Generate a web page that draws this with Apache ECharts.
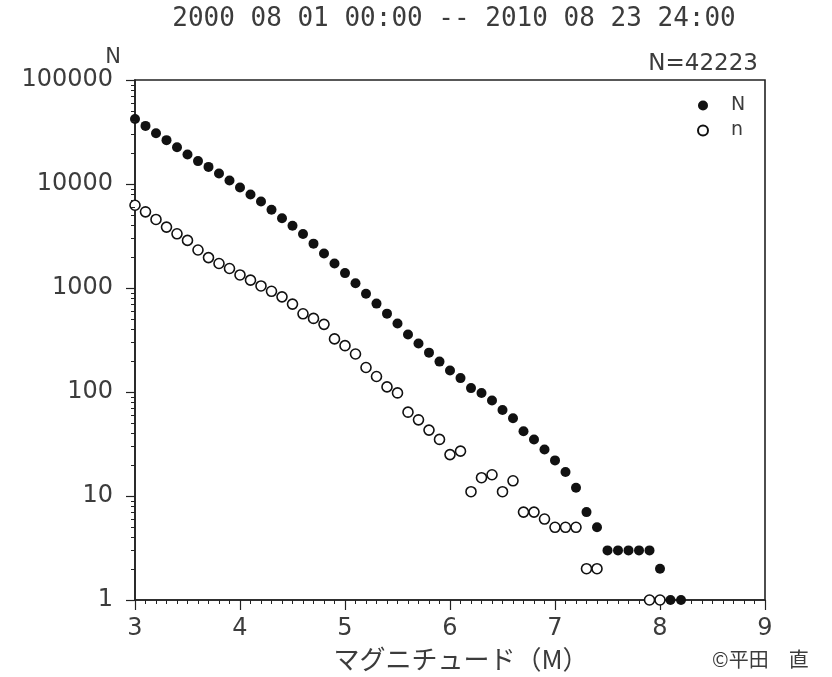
<!DOCTYPE html>
<html>
<head>
<meta charset="utf-8">
<script src="https://cdn.jsdelivr.net/npm/echarts@6/dist/echarts.min.js"></script>
<style>
html,body{margin:0;padding:0;background:#fff;}
#chart{width:832px;height:677px;}
</style>
</head>
<body>
<div id="chart"></div>
<script>
// Magnitude bins (M)
const magnitudes = [3.0,3.1,3.2,3.3,3.4,3.5,3.6,3.7,3.8,3.9,
  4.0,4.1,4.2,4.3,4.4,4.5,4.6,4.7,4.8,4.9,
  5.0,5.1,5.2,5.3,5.4,5.5,5.6,5.7,5.8,5.9,
  6.0,6.1,6.2,6.3,6.4,6.5,6.6,6.7,6.8,6.9,
  7.0,7.1,7.2,7.3,7.4,7.5,7.6,7.7,7.8,7.9,
  8.0,8.1,8.2];
// Cumulative count N (M >= m)
const cumulativeN = [42223,36200,30800,26400,22600,19200,16600,14600,12600,10800,
  9250,7920,6780,5650,4690,3970,3300,2670,2150,1720,
  1391,1112,880,708,567,455,357,293,239,196,
  161,136,109,98,83,67,56,42,35,28,
  22,17,12,7,5,3,3,3,3,3,
  2,1,1];
// Count per 0.1 bin n (null = no events)
const binCountN = [6250,5400,4560,3850,3320,2870,2320,1960,1720,1540,
  1335,1190,1047,930,822,700,565,510,447,324,
  279,232,172,141,112,98,64,54,43,35,
  25,27,11,15,16,11,14,7,7,6,
  5,5,5,2,2,null,null,null,null,1,
  1,null,null];
// Axis ticks
const xTickLabels = ['3','4','5','6','7','8','9'];
const yTickLabels = ['1','10','100','1000','10000','100000'];
const yMinorTicks = [2,3,4,5,6,7,8,9,20,30,40,50,60,70,80,90,
  200,300,400,500,600,700,800,900,2000,3000,4000,5000,6000,7000,8000,9000,
  20000,30000,40000,50000,60000,70000,80000,90000];
const titleText = '2000 08 01 00:00 -- 2010 08 23 24:00';
const totalText = 'N=42223';

const chart = echarts.init(document.getElementById('chart'), null, {renderer:'canvas'});

const dataN = [];
const dataNn = [];
magnitudes.forEach((m,i)=>{
  if (cumulativeN[i] != null) dataN.push([m, cumulativeN[i]]);
  if (binCountN[i] != null) dataNn.push([m, binCountN[i]]);
});

const textColor = '#3c3c3c';
const lineColor = '#222';

const baseGraphic = [
  {type:'text', right:74, top:53, style:{text:totalText, fontFamily:'DejaVu Sans', fontSize:23, fill:textColor}},
  {type:'text', left:712, top:649, style:{text:'©平田　直', fontFamily:'Noto Sans CJK JP', fontSize:20, fill:textColor}}
];

chart.setOption({
  animation:false,
  backgroundColor:'#fff',
  title:{
    text:titleText,
    left:449, top:1, textAlign:'center',
    textStyle:{fontFamily:'DejaVu Sans Mono', fontSize:26, fontWeight:'normal', color:textColor}
  },
  legend:{
    data:['N','n'],
    orient:'vertical',
    left:692, top:91,
    itemWidth:30, itemHeight:10, itemGap:6,
    icon:'circle',
    textStyle:{fontFamily:'DejaVu Sans', fontSize:19, color:textColor, padding:[0,0,0,8]}
  },
  grid:{
    left:135, right:67, top:80, bottom:75,
    show:true, borderColor:lineColor, borderWidth:1.6, backgroundColor:'transparent'
  },
  xAxis:{
    type:'value', min:3, max:9, interval:1,
    name:'マグニチュード（M）', nameLocation:'middle', nameGap:46,
    nameTextStyle:{fontFamily:'Noto Sans CJK JP', fontSize:26, color:textColor, padding:[0,0,0,22]},
    axisLine:{show:true, lineStyle:{color:lineColor, width:1.6}},
    axisTick:{show:true, inside:false, length:10, lineStyle:{color:lineColor, width:1.2}},
    minorTick:{show:true, splitNumber:10, length:4, lineStyle:{color:lineColor, width:1}},
    splitLine:{show:false},
    axisLabel:{margin:17, fontFamily:'DejaVu Sans', fontSize:24, color:textColor,
      formatter:(v)=>xTickLabels[Math.round(v)-3]}
  },
  yAxis:{
    type:'log', logBase:10, min:1, max:100000,
    name:'N', nameLocation:'end', nameGap:12,
    nameTextStyle:{fontFamily:'DejaVu Sans', fontSize:21, color:textColor, align:'right', verticalAlign:'bottom', padding:[0,14,0,0]},
    axisLine:{show:true, lineStyle:{color:lineColor, width:1.6}},
    axisTick:{show:true, inside:false, length:9, lineStyle:{color:lineColor, width:1.2}},
    minorTick:{show:false},
    splitLine:{show:false},
    axisLabel:{margin:22, fontFamily:'DejaVu Sans', fontSize:24, color:textColor,
      formatter:(v)=>yTickLabels[Math.round(Math.log10(v))]}
  },
  graphic:baseGraphic,
  series:[
    {
      name:'n', type:'scatter', data:dataNn, symbol:'circle', symbolSize:10,
      itemStyle:{color:'#fff', borderColor:'#111', borderWidth:1.6, opacity:1},
      z:2
    },
    {
      name:'N', type:'scatter', data:dataN, symbol:'circle', symbolSize:10,
      itemStyle:{color:'#111', opacity:1},
      z:3
    }
  ]
});

// Log-scale minor ticks on the y axis, positioned through the axis scale
const x0 = chart.convertToPixel({xAxisIndex:0}, 3);
const tickGraphic = yMinorTicks.map(v=>{
  const y = Math.round(chart.convertToPixel({yAxisIndex:0}, v)) + 0.5;
  return {type:'line', silent:true, z:10,
    shape:{x1:x0-4, y1:y, x2:x0, y2:y},
    style:{stroke:lineColor, lineWidth:1}};
});
chart.setOption({graphic:baseGraphic.concat(tickGraphic)}, {replaceMerge:['graphic']});
</script>
</body>
</html>
